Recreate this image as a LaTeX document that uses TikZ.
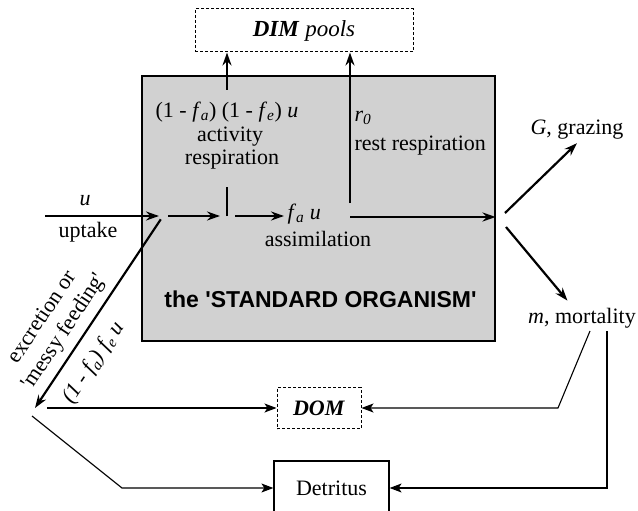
\documentclass[tikz,border=0pt]{standalone}
\usepackage{fontspec}
\setmainfont{Liberation Serif}
\newfontfamily\headfont{Liberation Sans}
\usetikzlibrary{arrows.meta}
\newcommand{\fsub}[1]{\textit{f}\textsubscript{\textit{#1}}}

\begin{document}
\begin{tikzpicture}[x=1pt,y=-1pt,
		font=\fontsize{22}{26}\selectfont,
		flow/.style={line width=2.2pt,-{Stealth[length=13pt,width=9pt]}},
		link/.style={line width=1.1pt,-{Stealth[length=12pt,width=9pt,inset=3pt]}},
		poolbox/.style={draw,line width=1pt,dash pattern=on 3pt off 2pt,inner sep=0pt},
		box/.style={draw,line width=1.2pt,inner sep=0pt}]
		\useasboundingbox (0,0) rectangle (638,511);
		% organism box and its title
		\node[box,fill=black!18,minimum width=353pt,minimum height=265pt] (org) at (318.5,208.5) {};
		\node[anchor=base,font=\headfont\bfseries\fontsize{23}{26}\selectfont] (title) at (320.5,307)
			{the \textquotesingle STANDARD ORGANISM\textquotesingle};
		% pools
		\node[poolbox,minimum width=218pt,minimum height=43pt] (dim) at (304,30.5)
			{\fontsize{23}{26}\selectfont\textbf{\textit{DIM}} \textit{pools}};
		\node[poolbox,minimum width=84pt,minimum height=41pt] (dom) at (319,408) {\textbf{\textit{DOM}}};
		\node[box,minimum width=115pt,minimum height=54pt] (det) at (331.5,488) {Detritus};
		% labels inside
		\node (upu) at (85,201) {\textit{u}};
		\node (upt) at (88,232) {uptake};
		\node (actf) at (227,112) {(1 - \fsub{a}) (1 - \fsub{e}) \textit{u}};
		\node (acta) at (230,137) {activity};
		\node (actr) at (232,160) {respiration};
		\node[anchor=west] (r0) at (351,118) {\textit{r}\textsubscript{\textit{0}}};
		\node[anchor=west] (rest) at (351,146) {rest respiration};
		\node[anchor=west] (fau) at (284,214) {\fsub{a} \textit{u}};
		\node (assim) at (318,239) {assimilation};
		% losses
		\node (graz) at (577,130) {\textit{G}, grazing};
		\node (mort) at (582,318) {\textit{m}, mortality};
		\node[rotate=56.3,align=center] (exc) at (54,325) {excretion or\\\textquotesingle messy feeding\textquotesingle};
		\node[rotate=56.3] (excf) at (94,363) {\textit{(1 - f\textsubscript{a}) f\textsubscript{e} u}};

		\coordinate (in) at (45,216);
		\coordinate (j1) at (163,216);
		\coordinate (j2) at (227,216);
		\coordinate (jt) at (227,187);
		\coordinate (ab) at (227,90);
		\coordinate (rb) at (350,203);
		\coordinate (rr) at (350,217);
		\coordinate (f1) at (505,213);
		\coordinate (f2) at (506,227);
		\coordinate (ex1) at (35,408);
		\coordinate (e2) at (47,408);
		\coordinate (e3) at (32,416);
		\coordinate (e4) at (122,488);
		\coordinate (ms) at (590,331);
		\coordinate (mB) at (558,408);
		\coordinate (mv) at (607,331);
		\coordinate (mC) at (607,488);

		% main flow through the organism
		\draw[flow,shorten >=4pt] (in) -- (j1);
		\draw[flow,shorten <=5pt,shorten >=7pt] (j1) -- (j2);
		\draw[line width=2pt] (j2) -- (jt);
		\draw[flow,shorten <=8pt] (j2) -- (j2 -| fau.west);
		\draw[flow] (rr) -- (org.east |- rr);
		\draw[flow] (ab) -- (ab |- dim.south);
		\draw[flow] (rb) -- (rb |- dim.south);
		\draw[flow,shorten <=4pt] (j1) -- (ex1);
		\draw[flow] (f1) -- (graz.south);
		\draw[flow,shorten >=5pt] (f2) -- (mort.130);
		% to dead organic matter
		\draw[link] (e2) -- (dom.west);
		\draw[link] (e3) -- (e4) -- (det.west);
		\draw[link] (ms) -- (mB) -- (dom.east);
		\draw[link] (mv) -- (mC) -- (det.east);
	\end{tikzpicture}
\end{document}
